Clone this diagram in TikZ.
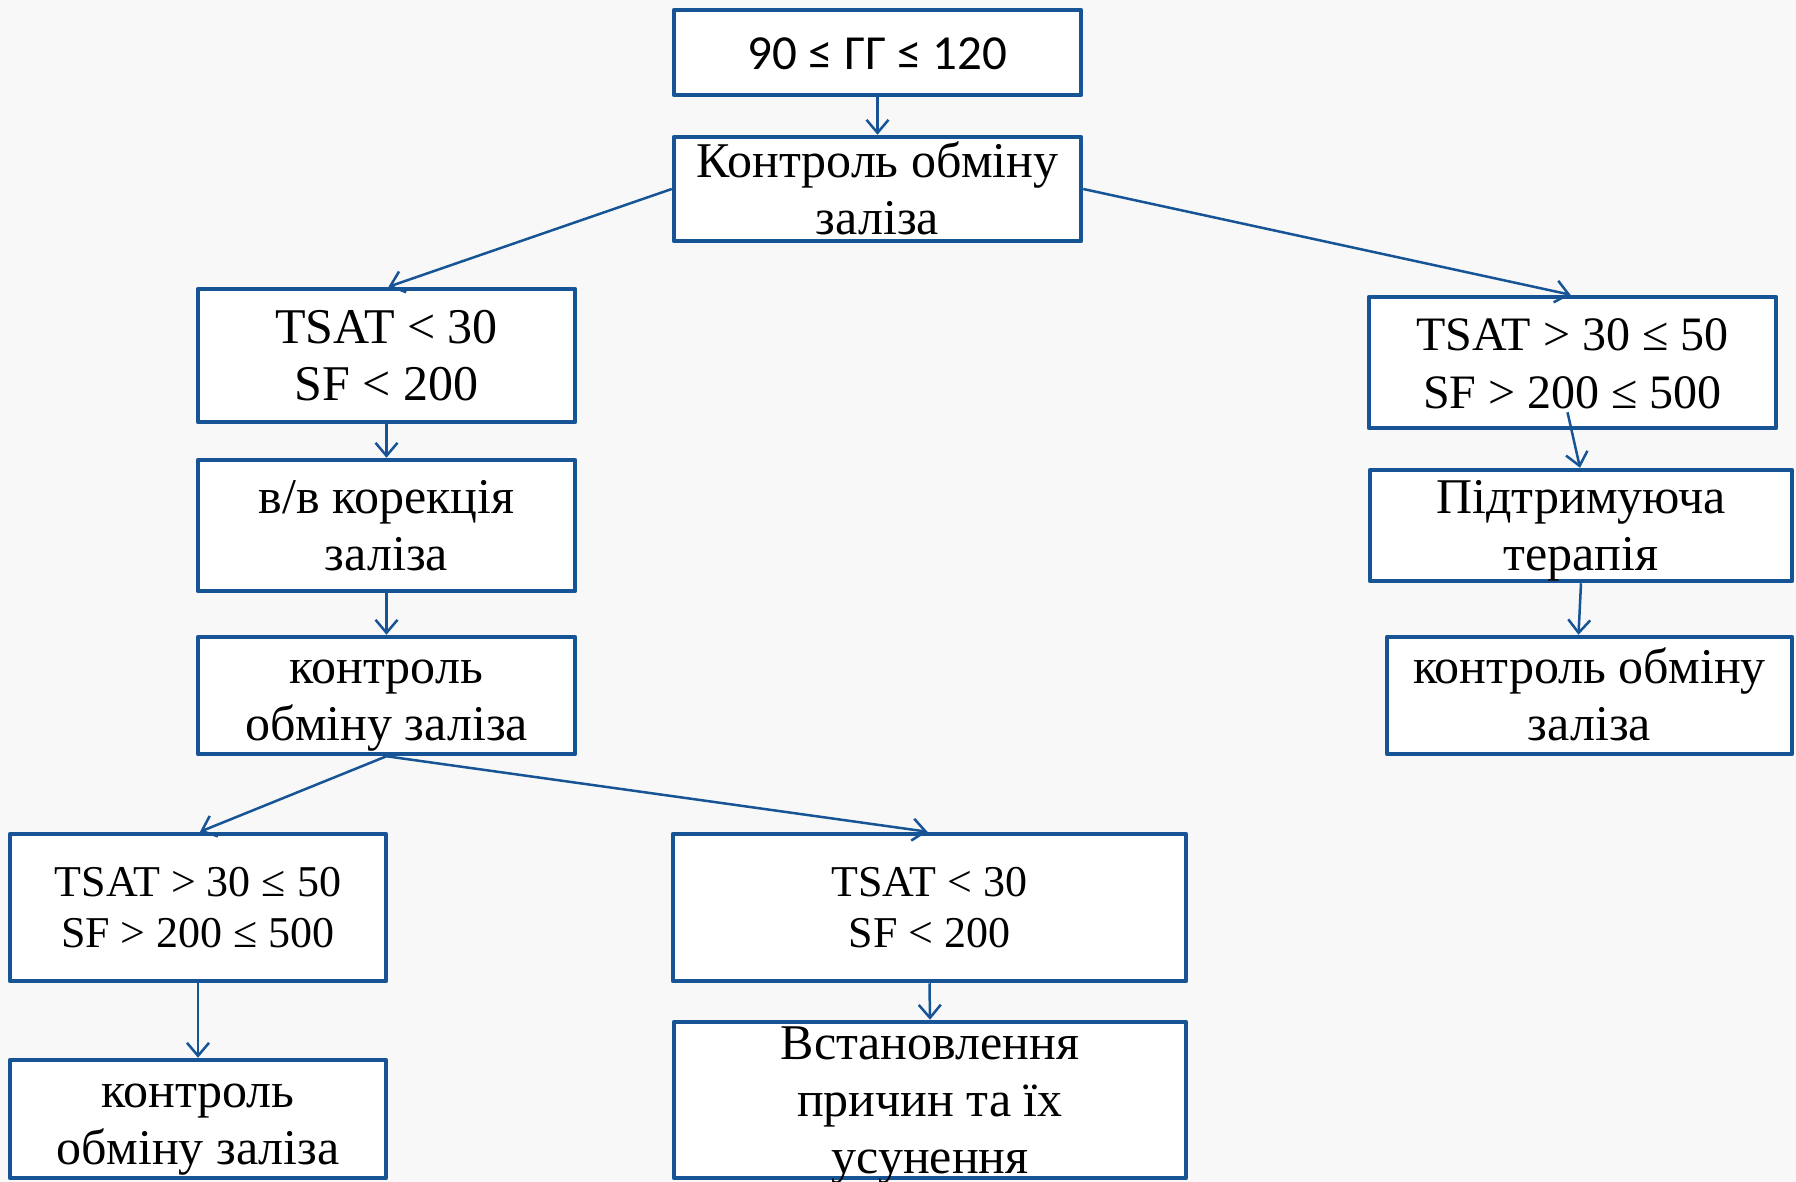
\documentclass[tikz,border=0pt]{standalone}
\usepackage{fontspec}
\setmainfont{Liberation Serif}
\newfontfamily\labelsans{Carlito}
\usetikzlibrary{arrows.meta,calc}
\definecolor{boxblue}{RGB}{22,84,150}
\definecolor{paper}{RGB}{248,248,248}
% strut giving every line the same height/depth, so text blocks centre alike
\newcommand\linestrut{\rule[-0.21\baselineskip]{0pt}{\baselineskip}}
\newcommand\boxtext[1]{\linestrut#1\linestrut}

\begin{document}
\begin{tikzpicture}[x=1pt,y=-1pt,
  box/.style={rectangle, draw=boxblue, line width=4.5pt, fill=white,
              line join=round, inner sep=0pt},
  txt/.style={align=center, inner sep=0pt, text=black},
  big/.style={txt, font=\fontsize{50}{57}\selectfont},
  mid/.style={txt, font=\fontsize{48}{58}\selectfont},
  small/.style={txt, font=\fontsize{44}{51}\selectfont},
  sans/.style={txt, font=\labelsans\fontsize{49}{60}\selectfont},
  link/.style={draw=boxblue, line width=2.5pt,
               -{Straight Barb[length=13pt,width=22pt]}}]

\useasboundingbox (0,0) rectangle (1796,1182);
\fill[paper] (0,0) rectangle (1796,1182);

% boxes
\node[box, minimum width=407, minimum height=85]  (A) at (877.5,52.5) {};
\node[box, minimum width=407, minimum height=104] (B) at (877.5,189) {};
\node[box, minimum width=377, minimum height=133] (C) at (386.5,355.5) {};
\node[box, minimum width=377, minimum height=131] (D) at (386.5,525.5) {};
\node[box, minimum width=377, minimum height=117] (E) at (386.5,695.5) {};
\node[box, minimum width=376, minimum height=147] (F) at (198,907.5) {};
\node[box, minimum width=376, minimum height=118] (G) at (198,1119) {};
\node[box, minimum width=513, minimum height=147] (H) at (929.5,907.5) {};
\node[box, minimum width=512, minimum height=156] (I) at (930,1100) {};
\node[box, minimum width=407, minimum height=131] (J) at (1572.5,362.5) {};
\node[box, minimum width=422, minimum height=111] (K) at (1581,525.5) {};
\node[box, minimum width=405, minimum height=117] (L) at (1589.5,695.5) {};

% box texts
\node[sans]  (At) at (A.center) {\boxtext{90 ≤ ГГ ≤ 120}};
\node[big]   (Bt) at (B.center) {\boxtext{Контроль обміну\\заліза}};
\node[big]   (Ct) at (C.center) {\boxtext{TSAT < 30\\SF < 200}};
\node[big]   (Dt) at (D.center) {\boxtext{в/в корекція\\заліза}};
\node[big]   (Et) at (E.center) {\boxtext{контроль\\обміну заліза}};
\node[small] (Ft) at (F.center) {\boxtext{TSAT > 30 ≤ 50\\SF > 200 ≤ 500}};
\node[big]   (Gt) at (G.center) {\boxtext{контроль\\обміну заліза}};
\node[small] (Ht) at (H.center) {\boxtext{TSAT < 30\\SF < 200}};
\node[big]   (It) at (I.center) {\boxtext{Встановлення\\причин та їх\\усунення}};
\node[mid]   (Jt) at (J.center) {\boxtext{TSAT > 30 ≤ 50\\SF > 200 ≤ 500}};
\node[big]   (Kt) at (K.center) {\boxtext{Підтримуюча\\терапія}};
\node[big]   (Lt) at (L.center) {\boxtext{контроль обміну\\заліза}};

% connectors
\coordinate (js) at ($(J.south)+(-5,-18)$);
\draw[link] (A.south) -- (B.north);
\draw[link] (B.west) -- ($(C.north)+(2,0)$);
\draw[link] (B.east) -- ($(J.north)+(-2,0)$);
\draw[link] (C.south) -- (D.north);
\draw[link] (D.south) -- (E.north);
\draw[link] (E.south) -- ($(F.north)+(2,0)$);
\draw[link] (E.south) -- ($(H.north)+(-2,0)$);
\draw[link] (F.south) -- (G.north);
\draw[link] (H.south) -- (I.north);
\draw[link] (js) -- ($(K.north)+(-1,0)$);
\draw[link] (K.south) -- ($(L.north)+(-11,0)$);
\end{tikzpicture}
\end{document}
